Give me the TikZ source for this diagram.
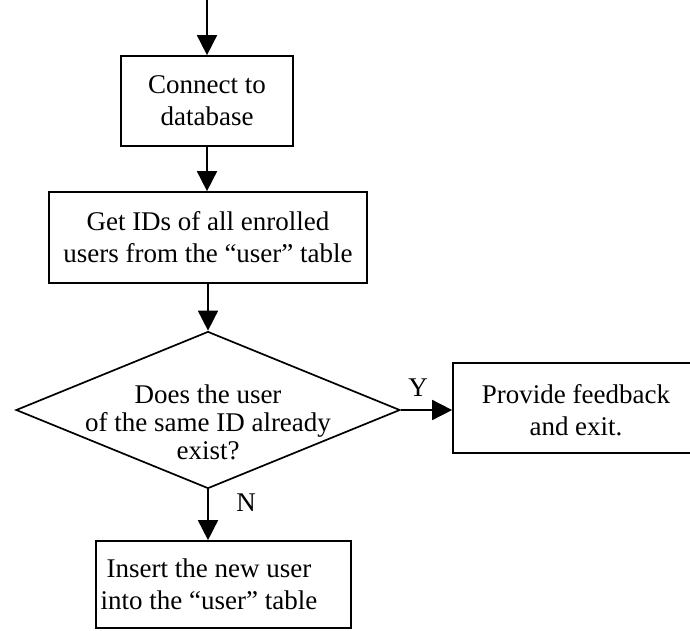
\documentclass[tikz,border=0pt]{standalone}
\usepackage{fontspec}
\setmainfont{Liberation Serif}
\usetikzlibrary{arrows.meta,shapes.geometric}
\tikzset{
  box/.style={draw, line width=1.7pt, inner sep=0pt, align=center,
    font=\fontsize{27}{32}\selectfont},
  flow/.style={line width=1.7pt, -{Triangle[width=20pt,length=20pt]}},
  lab/.style={inner sep=0pt, align=center, font=\fontsize{27}{32}\selectfont}
}
\begin{document}
\begin{tikzpicture}[x=1pt,y=-1pt]
\useasboundingbox (0,0) rectangle (690,630);
\clip (0,0) rectangle (690,630);
\coordinate (start) at (207,-5);
\node[box, minimum width=172pt, minimum height=90pt] (b1) at (207,101) {Connect to\\database};
\node[box, minimum width=318pt, minimum height=91pt] (b2) at (208,237.5) {Get IDs of all enrolled\\users from the ``user'' table};
\node[draw, diamond, line width=1.7pt, inner sep=0pt, aspect=2.446,
      minimum width=384pt, minimum height=157pt] (dec) at (208,410) {};
\node[lab, font=\fontsize{27}{28}\selectfont] (dectext) at (208,422) {Does the user\\of the same ID already\\exist?};
\node[box, minimum width=247pt, minimum height=90pt] (fb) at (576.5,408) {};
\node[lab] (fbtext) at (576,410) {Provide feedback\\and exit.};
\node[box, minimum width=255pt, minimum height=87pt] (ins) at (223.5,584.5) {};
\node[lab] (instext) at (209,584) {Insert the new user\\into the ``user'' table};
\node[lab] (Y) at (418,388) {Y};
\node[lab] (N) at (246,503) {N};
\draw[flow] (start) -- (b1.north);
\draw[flow] (b1.south) -- (b1.south |- b2.north);
\draw[flow] (b2.north |- b2.south) -- (dec.north);
\draw[flow] (dec.east) -- (fb.west |- dec.east);
\draw[flow] (dec.south) -- (dec.south |- ins.north);
\end{tikzpicture}
\end{document}
